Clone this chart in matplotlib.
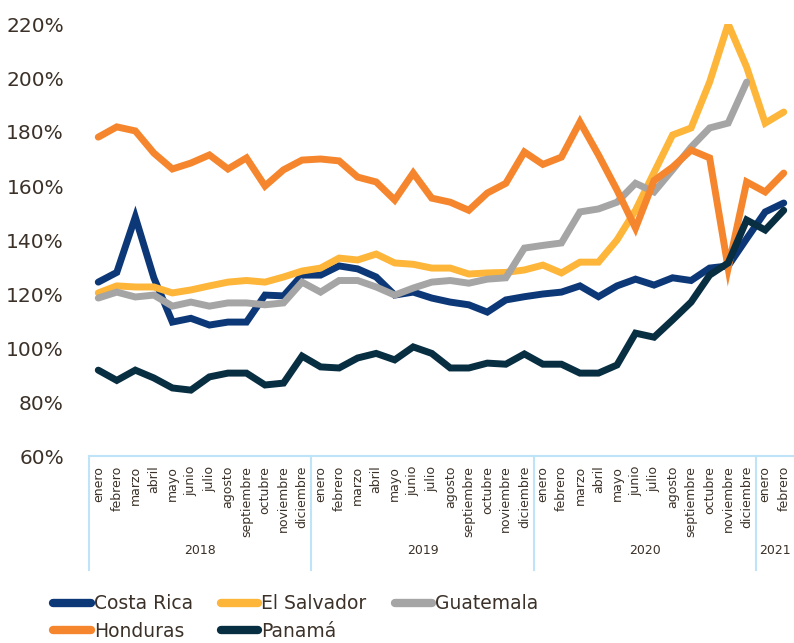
import numpy as np
import matplotlib.pyplot as plt
from matplotlib.lines import Line2D

months = ["enero", "febrero", "marzo", "abril", "mayo", "junio", "julio",
          "agosto", "septiembre", "octubre", "noviembre", "diciembre"]
years = ["2018", "2019", "2020", "2021"]
months_per_year = [12, 12, 12, 2]

costa_rica = [124.4, 128.0, 148.5, 126.0, 109.6, 111.0, 108.5, 109.6, 109.6, 119.6, 119.3, 127.0,
              127.0, 130.4, 129.3, 126.3, 119.6, 120.7, 118.5, 117.0, 116.0, 113.3, 117.8, 119.0,
              120.0, 120.7, 123.0, 119.0, 123.0, 125.5, 123.3, 126.0, 125.0, 129.6, 130.4, 140.5,
              150.4, 153.7]
el_salvador = [120.4, 123.0, 122.6, 122.6, 120.4, 121.5, 123.0, 124.4, 125.0, 124.4, 126.3, 128.5,
               129.6, 133.3, 132.6, 134.8, 131.5, 131.0, 129.6, 129.6, 127.4, 127.8, 128.0, 128.9,
               130.7, 127.8, 131.8, 131.8, 140.0, 151.0, 165.0, 178.9, 181.5, 198.5, 220.0, 204.0,
               183.3, 187.4]
guatemala = [118.5, 120.7, 118.9, 119.6, 115.5, 117.0, 115.5, 116.7, 116.7, 116.0, 116.7, 124.4,
             120.7, 125.0, 125.0, 122.6, 119.6, 122.2, 124.4, 125.0, 124.0, 125.5, 126.0, 137.0,
             138.0, 138.9, 150.4, 151.5, 154.0, 161.0, 157.8, 166.0, 174.4, 181.5, 183.3, 198.5,
             np.nan, np.nan]
honduras = [178.1, 181.9, 180.4, 172.2, 166.3, 168.5, 171.5, 166.3, 170.4, 160.0, 166.0, 169.6,
            170.0, 169.3, 163.3, 161.5, 154.8, 164.8, 155.5, 154.0, 151.0, 157.4, 161.0, 172.6,
            168.0, 170.7, 183.7, 171.5, 158.5, 144.4, 162.0, 167.0, 173.3, 170.4, 129.6, 161.5,
            157.8, 164.8]
panama = [91.8, 88.0, 91.8, 88.9, 85.2, 84.4, 89.3, 90.7, 90.7, 86.3, 87.0, 97.0,
          93.0, 92.6, 96.3, 98.0, 95.6, 100.4, 98.0, 92.6, 92.6, 94.4, 94.0, 97.8,
          94.0, 94.0, 90.7, 90.7, 93.7, 105.5, 104.0, 110.4, 117.0, 127.0, 131.5, 147.4,
          143.7, 151.0]

series = [
    ("Costa Rica", costa_rica, "#0d3878"),
    ("El Salvador", el_salvador, "#fdb53a"),
    ("Guatemala", guatemala, "#a5a5a5"),
    ("Honduras", honduras, "#f5862d"),
    ("Panamá", panama, "#082e42"),
]

text_color = "#3b3128"
box_color = "#bfe4f7"

month_labels = []
for n in months_per_year:
    month_labels += months[:n]
x = np.arange(len(month_labels))

fig = plt.figure(figsize=(7.94, 6.43), dpi=100)
W, H = 794, 643
left, right, top, bottom = 89, 793, 24, 456
ax = fig.add_axes([left / W, 1 - bottom / H, (right - left) / W, (bottom - top) / H])

handles = []
for i, (name, vals, color) in enumerate(series):
    ln, = ax.plot(x, vals, color=color, lw=5.0, solid_capstyle="round",
                  solid_joinstyle="miter", label=name, zorder=2 + i)
    handles.append(ln)

ax.set_xlim(-0.5, len(x) - 0.5)
ax.set_ylim(60, 220)
ax.set_yticks(np.arange(60, 221, 20))
ax.set_yticklabels([f"{v}%" for v in range(60, 221, 20)], fontsize=14.5, color=text_color)
ax.set_xticks(x)
ax.set_xticklabels(month_labels, rotation=90, fontsize=9, color=text_color, va="top")
ax.tick_params(axis="both", length=0)
ax.tick_params(axis="x", pad=7)
ax.tick_params(axis="y", pad=18)
for s in ax.spines.values():
    s.set_visible(False)

# multi-level category box under the axis
box_bottom = 570
fig.add_artist(Line2D([left / W, right / W], [1 - bottom / H, 1 - bottom / H],
                      color=box_color, lw=1.5))
start = 0
for yr, n in zip(years, months_per_year):
    xl = left + (right - left) * start / len(x)
    fig.add_artist(Line2D([xl / W, xl / W], [1 - bottom / H, 1 - box_bottom / H],
                          color=box_color, lw=1.5))
    xc = left + (right - left) * (start + n / 2) / len(x)
    fig.text(xc / W, 1 - 551 / H, yr, ha="center", va="center", fontsize=9, color=text_color)
    start += n

# legend fills column-wise, reorder so rows read like the original
order = [0, 3, 1, 4, 2]
leg_handles = [Line2D([], [], color=handles[i].get_color(), lw=6, solid_capstyle="round")
               for i in order]
leg_labels = [series[i][0] for i in order]
fig.legend(leg_handles, leg_labels, loc="upper left", bbox_to_anchor=(44 / W, 1 - 585 / H),
           ncol=3, frameon=False, fontsize=13.5, labelcolor=text_color, handlelength=2.0,
           handletextpad=0.15, columnspacing=1.5, labelspacing=0.45, borderpad=0)

fig.savefig("out.png", dpi=100)
